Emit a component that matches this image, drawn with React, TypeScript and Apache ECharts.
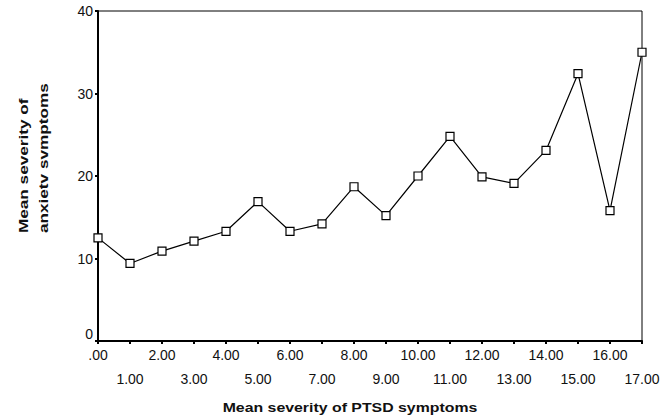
import React, { useEffect, useRef } from "react";
import * as echarts from "echarts";

const categories = [".00", "1.00", "2.00", "3.00", "4.00", "5.00", "6.00", "7.00", "8.00", "9.00", "10.00", "11.00", "12.00", "13.00", "14.00", "15.00", "16.00", "17.00"];
const anxietyMeans = [12.5, 9.4, 10.9, 12.1, 13.3, 16.9, 13.3, 14.2, 18.7, 15.2, 20.0, 24.8, 19.9, 19.1, 23.1, 32.4, 15.8, 35.0];
const yTicks = { min: 0, max: 40, interval: 10 };
const xTitle = "Mean severity of PTSD symptoms";
const yTitleLines = ["Mean severity of", "anxietv svmptoms"];

const FONT = "'Liberation Sans', Arial, Helvetica, sans-serif";

export default function App() {
  const ref = useRef<HTMLDivElement>(null);
  useEffect(() => {
    document.body.style.margin = "0";
    const chart = echarts.init(ref.current!, null, { renderer: "svg" });
    chart.setOption({
      animation: false,
      backgroundColor: "#fff",
      textStyle: { fontFamily: FONT },
      grid: {
        left: 98,
        right: 30,
        top: 11,
        bottom: 78,
        show: true,
        borderColor: "#000",
        borderWidth: 1,
        containLabel: false,
        outerBoundsMode: "none",
      },
      xAxis: {
        type: "category",
        data: categories,
        boundaryGap: false,
        axisLine: { lineStyle: { color: "#000", width: 2 } },
        axisTick: { alignWithLabel: true, length: 3, lineStyle: { color: "#000", width: 2 } },
        axisLabel: {
          interval: 0,
          margin: 2,
          fontSize: 14,
          lineHeight: 24,
          color: "#111",
          fontFamily: FONT,
          formatter: (v: string, i: number) => (i % 2 ? "\n" + v : v),
        },
        splitLine: { show: false },
      },
      yAxis: {
        type: "value",
        min: yTicks.min,
        max: yTicks.max,
        interval: yTicks.interval,
        axisLine: { show: true, lineStyle: { color: "#000", width: 2 } },
        axisTick: { show: true, length: 3, lineStyle: { color: "#000", width: 2 } },
        axisLabel: {
          fontSize: 14,
          color: "#111",
          margin: 5,
          fontFamily: FONT,
          formatter: (v: number) => (v === 0 ? "{z|0}" : String(v)),
          rich: { z: { fontSize: 14, color: "#111", fontFamily: FONT, padding: [0, 0, 14, 0] } },
        },
        splitLine: { show: false },
      },
      series: [
        {
          type: "line",
          data: anxietyMeans,
          symbol: "rect",
          symbolSize: 8,
          showSymbol: true,
          lineStyle: { color: "#000", width: 1.2 },
          itemStyle: { color: "#fff", borderColor: "#000", borderWidth: 1.2 },
          z: 3,
        },
      ],
      graphic: [
        {
          type: "text",
          x: 350,
          y: 408,
          scaleX: 1.22,
          style: {
            text: xTitle,
            fontSize: 13,
            fontWeight: "bold",
            fontFamily: FONT,
            fill: "#111",
            textAlign: "center",
            textVerticalAlign: "middle",
          },
        },
        {
          type: "text",
          x: 23,
          y: 233,
          rotation: Math.PI / 2,
          scaleX: 1.32,
          style: {
            text: yTitleLines[0],
            fontSize: 13,
            fontWeight: "bold",
            fontFamily: FONT,
            fill: "#111",
            textAlign: "left",
            textVerticalAlign: "middle",
          },
        },
        {
          type: "text",
          x: 43,
          y: 233,
          rotation: Math.PI / 2,
          scaleX: 1.32,
          style: {
            text: yTitleLines[1],
            fontSize: 13,
            fontWeight: "bold",
            fontFamily: FONT,
            fill: "#111",
            textAlign: "left",
            textVerticalAlign: "middle",
          },
        },
      ],
    });
    return () => chart.dispose();
  }, []);
  return <div ref={ref} style={{ width: 672, height: 419 }} />;
}
